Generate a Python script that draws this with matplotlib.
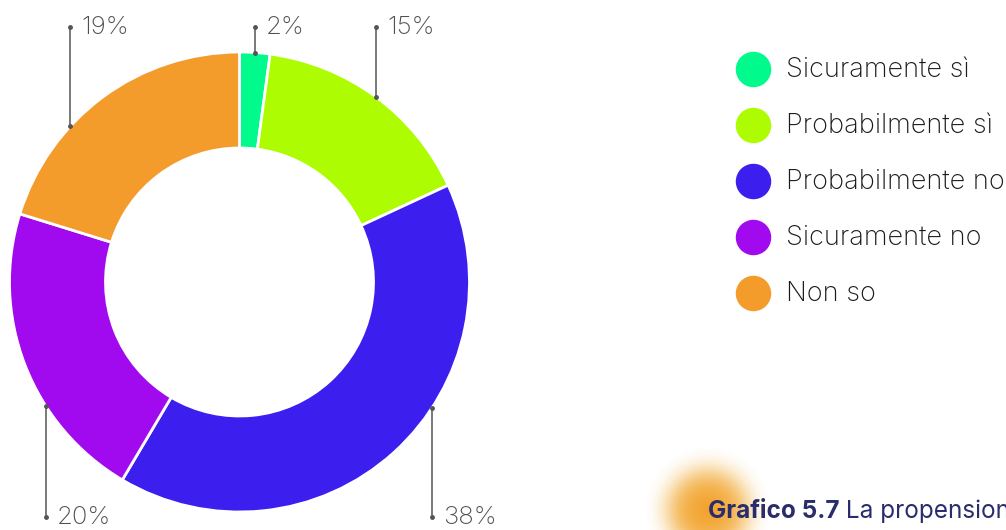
import numpy as np
import matplotlib.pyplot as plt
from matplotlib import font_manager

# dati del grafico
categorie = ['Sicuramente sì', 'Probabilmente sì', 'Probabilmente no', 'Sicuramente no', 'Non so']
percentuali = [2, 15, 38, 20, 19]
colori = ['#00FA8C', '#AEFC02', '#3C1EEF', '#A10AEF', '#F49C2B']
# posizione della linea guida dentro ogni spicchio (0 = inizio, 1 = fine)
pos_guida = [0.5, 0.5, 0.4, 0.35, 0.35]

nomi = {f.name for f in font_manager.fontManager.ttflist}
font = 'Inter' if 'Inter' in nomi else 'DejaVu Sans'
plt.rcParams['font.family'] = [font, 'DejaVu Sans']

W, H = 1006, 530
fig = plt.figure(figsize=(W / 100, H / 100), dpi=100)
ax = fig.add_axes([0, 0, 1, 1])

cx, cy, R, r_in = 239.5, 248, 230, 134
ax.pie(percentuali, colors=colori, startangle=90, counterclock=False,
       radius=R, center=(cx, cy), frame=True,
       wedgeprops=dict(width=R - r_in, edgecolor='white', linewidth=2))

# linee guida ed etichette
tot = sum(percentuali)
inizio = 0
for p, t in zip(percentuali, pos_guida):
    frac = (inizio + t * p) / tot
    ang = 2 * np.pi * frac
    x = cx + R * np.sin(ang)
    y = cy + R * np.cos(ang)
    y_lab = 503 if np.cos(ang) > 0 else 13
    ax.plot([x, x], [y, y_lab], color='#555555', lw=1.1, zorder=3)
    ax.plot([x, x], [y, y_lab], 'o', color='#555555', ms=2.5, zorder=3)
    ax.text(x + 11, y_lab, f'{p}%', fontsize=18.5, color='#505050',
            fontweight='light', va='center', ha='left')
    inizio += p

# legenda
for i, (nome, col) in enumerate(zip(categorie, colori)):
    ly = H - 69 - i * 56
    ax.scatter([753], [ly], s=34 ** 2 * 0.52, color=col, zorder=3)
    ax.text(786, ly - 1, nome, fontsize=19.5, color='#1a1a1a',
            fontweight='light', va='center', ha='left')

# macchia arancione sfumata dietro la didascalia
gx, gy, gr = 708, 20, 64
xx, yy = np.meshgrid(np.linspace(-gr, gr, 240), np.linspace(-gr, gr, 240))
dist = np.sqrt(xx ** 2 + yy ** 2)
alpha = 1 / (1 + np.exp((dist - 40) / 8))
bordo = 1 / (1 + np.exp((gr - 40) / 8))
alpha = 0.92 * np.clip((alpha - bordo) / (1 - bordo), 0, 1)
img = np.zeros((240, 240, 4))
img[..., 0] = 0.95
img[..., 1] = 0.60 + 0.12 * np.clip(dist / gr, 0, 1)
img[..., 2] = 0.10 + 0.20 * np.clip(dist / gr, 0, 1)
img[..., 3] = alpha
ax.imshow(img, extent=(gx - gr, gx + gr, gy - gr, gy + gr), origin='lower', zorder=1)

ax.set_xlim(0, W)
ax.set_ylim(0, H)
ax.set_aspect('auto')
ax.axis('off')

t1 = ax.text(708, 12, 'Grafico 5.7', fontsize=17.5, fontweight='bold',
             color='#2A2D6B', va='baseline', ha='left', zorder=4)
fig.canvas.draw()
bb = t1.get_window_extent().transformed(ax.transData.inverted())
ax.text(bb.x1, 12, ' La propensione', fontsize=17.5, color='#2A2D6B',
        va='baseline', ha='left', zorder=4)

fig.savefig('out.png', dpi=100)
